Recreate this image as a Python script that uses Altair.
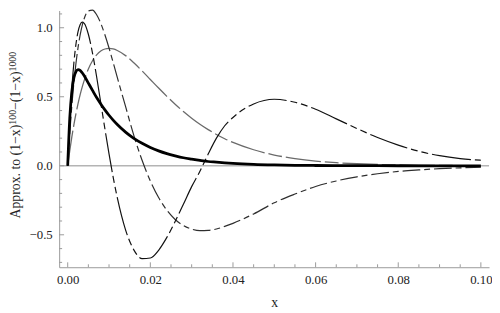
import altair as alt
import pandas as pd

# ---------------- data ----------------
xs = [0.0, 0.0005, 0.001, 0.0015, 0.002, 0.0025, 0.003, 0.0035, 0.004, 0.005,
      0.006, 0.007, 0.008, 0.009, 0.010, 0.011, 0.012, 0.014, 0.016, 0.018,
      0.020, 0.022, 0.024, 0.026, 0.028, 0.030, 0.032, 0.034, 0.036, 0.038,
      0.040, 0.045, 0.050, 0.055, 0.060, 0.065, 0.070, 0.075, 0.080, 0.085,
      0.090, 0.095, 0.100]

exact = [0.0, 0.345, 0.537, 0.638, 0.683, 0.697, 0.691, 0.674, 0.652, 0.599,
         0.546, 0.494, 0.448, 0.405, 0.366, 0.331, 0.299, 0.244, 0.199, 0.163,
         0.133, 0.108, 0.088, 0.072, 0.058, 0.048, 0.039, 0.031, 0.026, 0.021,
         0.017, 0.010, 0.006, 0.0035, 0.002, 0.0012, 0.0007, 0.0004, 0.0002, 0.0001,
         0.0001, 0.0, 0.0]

approx1 = [0.0, 0.110, 0.209, 0.298, 0.378, 0.450, 0.514, 0.570, 0.619, 0.701,
           0.761, 0.803, 0.831, 0.846, 0.850, 0.846, 0.835, 0.798, 0.746, 0.687,
           0.625, 0.563, 0.503, 0.446, 0.393, 0.345, 0.301, 0.262, 0.227, 0.196,
           0.169, 0.116, 0.078, 0.052, 0.034, 0.0225, 0.0147, 0.0096, 0.0062, 0.004,
           0.0026, 0.0016, 0.001]

approx2 = [0.0, 0.236, 0.436, 0.604, 0.743, 0.856, 0.946, 1.016, 1.067, 1.122,
           1.127, 1.094, 1.032, 0.949, 0.853, 0.748, 0.640, 0.430, 0.220, 0.040,
           -0.110, -0.230, -0.322, -0.389, -0.433, -0.459, -0.470, -0.468, -0.458, -0.439,
           -0.417, -0.349, -0.268, -0.205, -0.150, -0.110, -0.080, -0.058, -0.041, -0.030,
           -0.021, -0.015, -0.010]

approx3 = [0.0, 0.316, 0.563, 0.748, 0.882, 0.971, 1.022, 1.040, 1.032, 0.953,
           0.816, 0.645, 0.457, 0.268, 0.086, -0.082, -0.231, -0.464, -0.609, -0.672,
           -0.668, -0.612, -0.519, -0.404, -0.279, -0.151, -0.040, 0.085, 0.200, 0.290,
           0.350, 0.448, 0.482, 0.460, 0.410, 0.340, 0.270, 0.205, 0.150, 0.105,
           0.073, 0.052, 0.040]

x_major = [0.0, 0.02, 0.04, 0.06, 0.08, 0.10]
x_minor = [0.005, 0.01, 0.015, 0.025, 0.03, 0.035, 0.045, 0.05, 0.055,
           0.065, 0.07, 0.075, 0.085, 0.09, 0.095]
y_major = [-0.5, 0.0, 0.5, 1.0]
y_minor = [-0.7, -0.6, -0.4, -0.3, -0.2, -0.1, 0.1, 0.2, 0.3, 0.4,
           0.6, 0.7, 0.8, 0.9, 1.1]

title_parts = ["Approx. to (1\u2212x)", "100", "\u2212(1\u2212x)", "1000"]

# ---------------- layout ----------------
W, H = 437, 261
FONT = "Liberation Serif"
AX = "#9a9a9a"
TXT = "#222222"

xscale = alt.Scale(domain=[-0.00207, 0.10198], nice=False, zero=False)
yscale = alt.Scale(domain=[-0.735, 1.125], nice=False, zero=False)

df = pd.DataFrame({"x": xs, "exact": exact, "a1": approx1, "a2": approx2, "a3": approx3})

xaxis = alt.Axis(values=x_major, format=".2f", ticks=False, grid=False,
                 domainColor=AX, domainWidth=1, labelFont=FONT, labelFontSize=13,
                 labelColor=TXT, labelPadding=7, labelFlush=False,
                 title="x", titleFont=FONT, titleFontSize=14, titleFontWeight="normal",
                 titleColor=TXT, titlePadding=9)
yaxis = alt.Axis(values=y_major, format=".1f", ticks=False, grid=False,
                 domainColor=AX, domainWidth=1, labelFont=FONT, labelFontSize=13,
                 labelColor=TXT, labelPadding=7, title=None)


def X(field):
    return alt.X(field, scale=xscale, axis=xaxis, title="x")


def Y(field):
    return alt.Y(field, scale=yscale, axis=yaxis, title=None)


def curve(col, color, width, dash=None):
    kw = dict(color=color, strokeWidth=width, interpolate="monotone")
    if dash:
        kw["strokeDash"] = dash
    return alt.Chart(df).mark_line(**kw).encode(x=X("x:Q"), y=Y(f"{col}:Q"))


zero_line = alt.Chart(pd.DataFrame({"y": [0.0]})).mark_rule(
    color="#b4b4b4", strokeWidth=1.5).encode(y=Y("y:Q"))

xt_major = alt.Chart(pd.DataFrame({"t": x_major})).mark_rule(color=AX).encode(
    x=X("t:Q"), y=alt.value(H), y2=alt.value(H - 5))
xt_minor = alt.Chart(pd.DataFrame({"t": x_minor})).mark_rule(color=AX).encode(
    x=X("t:Q"), y=alt.value(H), y2=alt.value(H - 3))
yt_major = alt.Chart(pd.DataFrame({"t": y_major})).mark_rule(color=AX).encode(
    y=Y("t:Q"), x=alt.value(0), x2=alt.value(5))
yt_minor = alt.Chart(pd.DataFrame({"t": y_minor})).mark_rule(color=AX).encode(
    y=Y("t:Q"), x=alt.value(0), x2=alt.value(3))

# y-axis title built from pieces (superscripts)
main_size, sup_size = 14, 10
base_x, sup_x = -40, -43.5
y0 = 211.5
w1 = 95.4
w2 = 15.0
w3 = 39.1
pos = [(y0, base_x, main_size), (y0 - w1, sup_x, sup_size),
       (y0 - w1 - w2, base_x, main_size), (y0 - w1 - w2 - w3, sup_x, sup_size)]
title_layers = []
for txt, (py, px, fs) in zip(title_parts, pos):
    title_layers.append(
        alt.Chart(pd.DataFrame({"s": [txt]})).mark_text(
            angle=270, align="left", baseline="alphabetic", font=FONT,
            fontSize=fs, color=TXT).encode(
            text="s:N", x=alt.value(px), y=alt.value(py)))

chart = alt.layer(
    curve("a1", "#6a6a6a", 1.3, [36, 4, 14, 4]),
    zero_line,
    curve("a2", "#2e2e2e", 1.2, [18, 4, 6, 4]),
    curve("a3", "#111111", 1.2, [40, 4, 7, 4, 7, 4]),
    curve("exact", "#000000", 2.8),
    xt_major, xt_minor, yt_major, yt_minor,
    *title_layers,
).properties(
    width=W, height=H,
    padding={"left": 52, "top": 0, "right": 3, "bottom": 44},
    autosize=alt.AutoSizeParams(type="none"),
).configure_view(strokeWidth=0)

chart.save("out.html", embed_options={"renderer": "svg", "actions": False})
